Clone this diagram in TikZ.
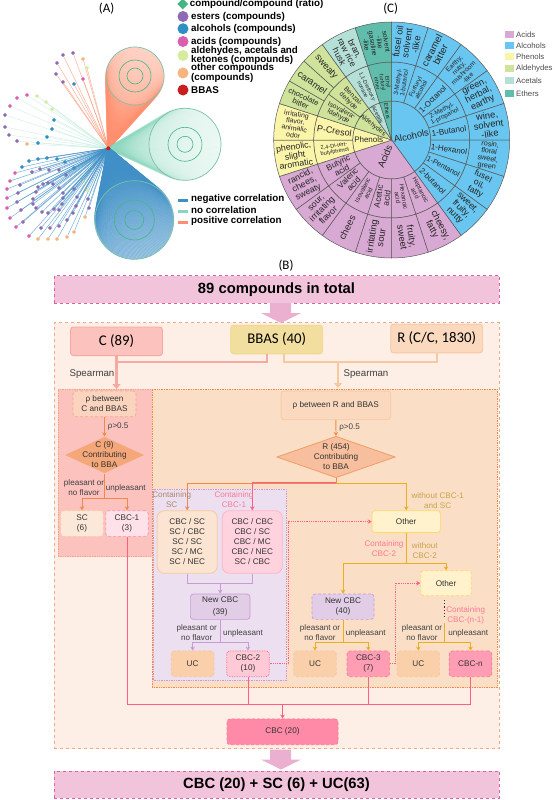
\documentclass[tikz,border=0pt]{standalone}
\usepackage{fontspec}
\setmainfont{Liberation Sans}
\newfontfamily\calfont{Carlito}
\usetikzlibrary{arrows.meta,calc,shapes.geometric}

\definecolor{cEst}{HTML}{8E6BB5}
\definecolor{cAlc}{HTML}{2E8FC5}
\definecolor{cAcd}{HTML}{DA5FAE}
\definecolor{cAld}{HTML}{D5EC9E}
\definecolor{cOth}{HTML}{F8B47C}
\definecolor{cGrn}{HTML}{45B585}
\definecolor{cRed}{HTML}{C81E1E}
\definecolor{cNeg}{HTML}{3F8FC6}
\definecolor{cNon}{HTML}{8AD6BC}
\definecolor{cPos}{HTML}{FF8F6E}
\definecolor{sAcd}{HTML}{D8A9D2}
\definecolor{sAlc}{HTML}{69C6F0}
\definecolor{sPhe}{HTML}{FBF5A9}
\definecolor{sAld}{HTML}{CFE39B}
\definecolor{sAce}{HTML}{B5E0D8}
\definecolor{sEth}{HTML}{60BDAC}
\definecolor{cBan}{HTML}{F2C4DC}
\definecolor{cBanE}{HTML}{E0609F}
\definecolor{cArr}{HTML}{EBAFD0}
\definecolor{cOut}{HTML}{FDEEE6}
\definecolor{cOutE}{HTML}{F5A58A}
\definecolor{cSal}{HTML}{FBC2BE}
\definecolor{cSalE}{HTML}{F5A9A0}
\definecolor{cPea}{HTML}{FAD9BE}
\definecolor{cPeaE}{HTML}{F7C9A0}
\definecolor{cPanR}{HTML}{FADFC6}
\definecolor{cOrg}{HTML}{F08A4C}
\definecolor{cPnk}{HTML}{FF5F85}
\definecolor{cPnkL}{HTML}{FF9DB5}
\definecolor{cGld}{HTML}{E8B020}
\definecolor{cPur}{HTML}{E2CDE6}
\definecolor{cPurE}{HTML}{C99AD8}
\definecolor{cTan}{HTML}{C8A24A}
\definecolor{cCrm}{HTML}{FFF2CC}
\definecolor{cCrmE}{HTML}{FFD966}
\definecolor{cSnd}{HTML}{F2DFA0}
\definecolor{cSndE}{HTML}{EDD98A}

% ---- sunburst cell: #1 from #2 to #3 angle #4 inner #5 outer ----
\newcommand{\sect}[5]{%
  \filldraw[fill=#1,draw=black!65,line width=.5pt]
    (#2:#4pt) -- (#2:#5pt) arc[start angle=#2,end angle=#3,radius=#5pt] -- (#3:#4pt)
    arc[start angle=#3,end angle=#2,radius=#4pt] -- cycle;%
}
% ---- sunburst text: #1 angle #2 radius #3 size #4 text ----
\newcommand{\slab}[4]{%
  \pgfmathsetmacro{\rot}{abs(#1)<90 ? #1 : #1+180}%
  \pgfmathsetmacro{\bsk}{#3*1.0}%
  \node[rotate=\rot,align=center,inner sep=0pt,text=black!85,
        font=\fontsize{#3}{\bsk}\selectfont] at (#1:#2pt) {#4};%
}
% ---- fan: #1 colour #2 x #3 y #4 r #5 opacity #6 ring #7 ring ----
\newcommand{\fan}[7]{%
  \foreach \a in {0,2,...,358}
    \draw[#1,line width=2.2pt,opacity=#5] (hub) -- ($(#2,#3)+(\a:#4pt)$);%
  \draw[cNon!90!black,line width=.7pt] (#2,#3) circle[radius=#4pt];%
  \draw[cGrn,line width=.6pt] (#2,#3) circle[radius=#6pt];%
  \draw[cGrn,line width=.6pt] (#2,#3) circle[radius=#7pt];%
}
% ---- block arrow: #1 x #2 top of the stem ----
\newcommand{\blkarr}[2]{%
  \fill[cArr] (#1-11,#2) -- (#1+10,#2) -- (#1+10,#2+10) -- (#1+20,#2+10)
    -- (#1,#2+20) -- (#1-20,#2+10) -- (#1-11,#2+10) -- cycle;%
}

\begin{document}
\begin{tikzpicture}[
  x=1pt,y=-1pt,
  panlab/.style={font=\calfont\fontsize{13}{13}\selectfont},
  legtxt/.style={font=\bfseries\fontsize{9.8}{9.6}\selectfont,anchor=west,align=left,inner sep=0pt},
  legdot/.style={circle,inner sep=0pt,minimum size=11pt},
  legbar/.style={line width=3pt},
  swatch/.style={inner sep=0pt,minimum width=8.7pt,minimum height=7pt},
  swtxt/.style={font=\fontsize{7.8}{8}\selectfont,text=black!70,anchor=west,inner sep=0pt},
  leaf/.style={regular polygon,regular polygon sides=6,inner sep=0pt,minimum size=3.6pt},
  spoke/.style={line width=.5pt,opacity=.7},
  banner/.style={draw=cBanE,fill=cBan,dashed,line width=.9pt,minimum width=445pt,minimum height=27.5pt,
    inner sep=0pt,font=\bfseries\fontsize{14.8}{15}\selectfont},
  bigbox/.style={rounded corners=3pt,line width=.9pt,minimum width=92pt,minimum height=28.6pt,
    inner sep=0pt,font=\calfont\fontsize{14.8}{15}\selectfont},
  panel/.style={densely dotted,line width=.7pt,inner sep=0pt},
  fbox/.style={rounded corners=3pt,line width=.7pt,align=center,inner sep=0pt,
    text=black!80,font=\fontsize{8.2}{10}\selectfont},
  leafbox/.style={fbox,densely dashed,minimum width=42.6pt,minimum height=25.7pt},
  listbox/.style={fbox,rounded corners=7pt,line width=.8pt,minimum width=60pt,minimum height=62.6pt},
  dia/.style={diamond,aspect=2,inner sep=0pt,line width=.8pt},
  dlab/.style={align=center,inner sep=0pt,text=black!80,font=\fontsize{8.2}{10}\selectfont},
  txt/.style={align=center,inner sep=0pt,text=black!75,font=\fontsize{8.1}{10}\selectfont},
  arr/.style={-{Stealth[length=4pt,width=4.5pt]},line width=.8pt},
  fatarr/.style={-{Triangle[length=5pt,width=8pt]},line width=2.3pt},
  dotarr/.style={-{Stealth[length=4pt,width=4.5pt]},cPnk,densely dotted,line width=.8pt},
]
\useasboundingbox (0,0) rectangle (554,800);

% ======================= (A) network =======================
\node[panlab] (labA) at (106.7,9) {(A)};
\coordinate (hub) at (108.3,148.3);

\fan{cPos}{135}{76}{29}{.2}{16}{8}
\fan{cNon}{185}{144.3}{36}{.1}{17}{8}
\fan{cNeg}{134.3}{220}{39.3}{.4}{20}{9.5}

% positive leaves
\foreach \x/\y/\c in {73/53/cEst,63/55/cEst,57/63/cEst,56/74/cEst,83/59/cOth,87/68/cAld,83/79/cAcd,63/82/cEst,74/84/cAlc}{
  \node[leaf,fill=\c] (pl) at (\x,\y) {};
  \draw[spoke,cPos] (pl) -- (hub);
}
% no correlation leaves
\foreach \x/\y/\c in {27/95/cAcd,17/98/cAcd,10/106/cAcd,5/115/cEst,5/127/cEst,9/135/cEst,17/141/cEst,27/144/cOth,38/143/cAlc,47/137/cAlc,52/129/cAlc,54/120/cAlc,52/109/cAld,46/102/cAld,37/96/cAld}{
  \node[leaf,fill=\c] (nl) at (\x,\y) {};
  \draw[spoke,cNon!50] (nl) -- (hub);
}
% negative leaves
\foreach \x/\y/\c in {22/167/cAlc,15/173/cAcd,10/181/cAcd,7/189/cAcd,7/198/cAcd,7/208/cAcd,10/218/cAcd,16/227/cAcd,29/236/cAcd,38/239/cOth,48/239/cOth,57/239/cOth,67/237/cOth,74/232/cOth,85/217/cOth,89/208/cEst,88/199/cEst,87/190/cAld,83/181/cAld,74/168/cAlc,65/162/cAlc,57/159/cAlc,47/158/cAlc,38/159/cAlc,29/161/cAlc,
  32/172/cEst,40/169/cEst,49/170/cEst,59/170/cEst,66/175/cEst,20/185/cEst,18/193/cEst,17/202/cEst,21/210/cEst,23/222/cEst,41/228/cEst,50/228/cEst,59/226/cEst,67/220/cEst,73/213/cEst,76/206/cEst,77/197/cEst,74/189/cEst,
  43/184/cEst,48/183/cEst,53/184/cEst,59/188/cEst,63/193/cEst,63/198/cEst,62/204/cEst,59/210/cEst,54/209/cEst,48/213/cEst,42/212/cEst,36/208/cEst,33/204/cEst,33/199/cEst,36/192/cEst,38/187/cEst}{
  \node[leaf,fill=\c] (gl) at (\x,\y) {};
  \draw[spoke,cNeg] (gl) -- (hub);
}
\node[circle,fill=cRed,inner sep=0pt,minimum size=4pt] (bbasdot) at (hub) {};

% legend of (A)
\node[diamond,fill=cGrn,inner sep=0pt,minimum size=11pt] (mk1) at (182.7,4) {};
\node[legtxt] (lg1) at (189.7,4) {compound/compound (ratio)};
\foreach \y/\c/\t/\n in {16.5/cEst/{esters (compounds)}/2,28.7/cAlc/{alcohols (compounds)}/3,41.5/cAcd/{acids (compounds)}/4,55.5/cAld/{aldehydes, acetals and\\ketones (compounds)}/5,73/cOth/{other compounds\\(compounds)}/6,90/cRed/{BBAS}/7}{
  \node[legdot,fill=\c] (mk\n) at (183,\y) {};
  \node[legtxt] (lg\n) at (191,\y) {\t};
}
\foreach \y/\c/\t/\n in {200/cNeg/{negative correlation}/8,211/cNon/{no correlation}/9,222/cPos/{positive correlation}/10}{
  \draw[legbar,\c] (177.7,\y) -- (188.3,\y);
  \node[legtxt] (lg\n) at (191,\y-.7) {\t};
}

% ======================= (C) sunburst =======================
\node[panlab] (labC) at (390.7,8.3) {(C)};
\begin{scope}[shift={(391.7,140)},y=1pt]
% inner ring
\sect{sAlc}{90}{-54}{0}{39}
\sect{sAcd}{-54}{-162}{0}{39}
\sect{sPhe}{198}{162}{0}{39}
\sect{sAld}{162}{126}{0}{39}
\sect{sAce}{126}{108}{0}{39}
\sect{sEth}{108}{90}{0}{39}
% middle and outer rings
\foreach \a in {90,72,...,-36}{
  \pgfmathsetmacro{\b}{\a-18}
  \sect{sAlc}{\a}{\b}{39}{78}
  \sect{sAlc}{\a}{\b}{78}{118}
}
\foreach \a in {-54,-72,...,-144}{
  \pgfmathsetmacro{\b}{\a-18}
  \sect{sAcd}{\a}{\b}{39}{78}
  \sect{sAcd}{\a}{\b}{78}{118}
}
\foreach \a in {198,180}{
  \pgfmathsetmacro{\b}{\a-18}
  \sect{sPhe}{\a}{\b}{39}{78}
  \sect{sPhe}{\a}{\b}{78}{118}
}
\sect{sAld}{162}{144}{39}{78}
\sect{sAld}{144}{126}{39}{78}
\sect{sAld}{162}{150}{78}{118}
\sect{sAld}{150}{138}{78}{118}
\sect{sAld}{138}{126}{78}{118}
\sect{sAce}{126}{108}{39}{78}
\sect{sAce}{126}{108}{78}{118}
\sect{sEth}{108}{90}{39}{78}
\sect{sEth}{108}{90}{78}{118}
% inner labels
\slab{12}{20}{9.4}{Alcohols}
\slab{-112}{18}{9.7}{Acids}
\node[inner sep=0pt,font=\fontsize{8}{8}\selectfont,text=black!85] (phe) at (180:23pt) {Phenols};
\slab{142}{24}{6.6}{Aldehydes}
\slab{119}{29}{5.6}{Acetals}
\slab{99}{29}{5.6}{Ethers}
% middle labels
\slab{81}{58}{6.4}{3-Methyl-\\1-butanol}
\slab{63}{58}{6.4}{Furfuryl\\alcohol}
\slab{45}{58}{8}{1-Octanol}
\slab{27}{58}{6.4}{2-Methyl-\\1-propanol}
\slab{9}{58}{8.2}{1-Butanol}
\slab{-9}{58}{8}{1-Hexanol}
\slab{-27}{58}{7.4}{1-Pentanol}
\slab{-45}{58}{8}{2-butanol}
\slab{-63}{58}{6.2}{Heptanoic\\acid}
\slab{-81}{58}{6.2}{Hexanoic\\acid}
\slab{-99}{58}{8.4}{Acetic\\acid}
\slab{-117}{58}{6.4}{Isovaleric\\acid}
\slab{-135}{58}{8.4}{Valeric\\acid}
\slab{-153}{58}{8.4}{Butyric\\acid}
\slab{189}{58}{5.6}{2,4-Di-tert-\\butylphenol}
\slab{171}{58}{9}{P-Cresol}
\slab{153}{58}{6.8}{Isovalera-\\ldehyde}
\slab{135}{58}{6.8}{Benzal-\\dehyde}
\slab{117}{58}{5.4}{1,1-Diethoxy-\\nonane}
\slab{99}{58}{5.4}{Ethyl\\furfuryl\\ether}
% outer labels
\slab{81}{98}{9.2}{fusel oil\\solvent\\-like}
\slab{63}{98}{9.6}{caramel\\bitter}
\slab{45}{98}{6.6}{Earthy,\\nutty,\\mushroom\\-like}
\slab{27}{98}{9.2}{green,\\herbal,\\earthy}
\slab{9}{98}{9.4}{wine,\\solvent\\-like}
\slab{-9}{98}{7.2}{rosin,\\floral\\sweet,\\green}
\slab{-27}{98}{8.6}{fusel\\oil,\\fatty}
\slab{-45}{98}{9}{sweet,\\fruity,\\nutty}
\slab{-63}{98}{9.4}{cheesy,\\fatty}
\slab{-81}{98}{9.4}{fruity,\\sweet}
\slab{-99}{98}{9.4}{irritating\\sour}
\slab{-117}{98}{9.6}{chees}
\slab{-135}{98}{8.8}{sour,\\irritating\\flavor}
\slab{-153}{98}{8.8}{rancid,\\chees,\\sweaty}
\slab{189}{98}{8.8}{phenolic,\\slight\\aromatic}
\slab{171}{98}{7}{irritating\\flavor,\\animalic\\odor}
\slab{156}{98}{7.6}{chocolate\\bitter}
\slab{144}{98}{9.4}{caramel}
\slab{132}{98}{9.4}{sweaty}
\slab{117}{98}{8.8}{bran,\\raw rice\\husk}
\slab{99}{98}{6.8}{solvent\\-like\\gasoline\\-like}
\end{scope}

% legend of (C)
\foreach \y/\c/\t/\n in {34.3/sAcd/Acids/1,46/sAlc/Alcohols/2,56.7/sPhe/Phenols/3,68.7/sAld/Aldehydes/4,80.7/sAce/Acetals/5,93.3/sEth/Ethers/6}{
  \node[swatch,fill=\c] (sw\n) at (509.7,\y) {};
  \node[swtxt] (st\n) at (516,\y) {\t};
}

% ======================= (B) flow =======================
\node[panlab] (labB) at (286,266) {(B)};
\node[banner] (topban) at (276.5,289.3) {89 compounds in total};
\blkarr{281}{303}

\node[draw=cOutE,fill=cOut,dashed,line width=.8pt,minimum width=445pt,minimum height=426pt,inner sep=0pt] (outer) at (276.5,535.7) {};
\node[panel,draw=cOutE,fill=cSal,minimum width=94.3pt,minimum height=167.7pt] (panC) at (105.2,472.8) {};
\node[panel,draw=cOrg,fill=cPanR,minimum width=344.7pt,minimum height=298.7pt] (panR) at (324.7,538.3) {};
\node[panel,draw=cPurE,fill=cPur!65,minimum width=132.3pt,minimum height=191.4pt] (panP) at (219.9,585) {};

% top row
\node[bigbox,draw=cSalE,fill=cSal] (cbox) at (116.5,341.3) {C (89)};
\node[bigbox,draw=cSndE,fill=cSnd] (bbas) at (276.7,339.5) {BBAS (40)};
\node[bigbox,draw=cPeaE,fill=cPea] (rbox) at (436.7,338.5) {R (C/C, 1830)};
\coordinate (cin) at (116.5,389);
\coordinate (rin) at (338,388);
\coordinate (jc) at (116.5,361.7);
\coordinate (jr) at (338,362);

\draw[fatarr,cSalE] (cbox.south) -- (cin);
\draw[line width=2pt,cSalE] ([xshift=-10pt]bbas.south) |- (jc);
\draw[line width=2pt,cPeaE] ([xshift=7.3pt]bbas.south) |- (jr);
\draw[line width=2pt,cPeaE] (rbox.south) |- (jr);
\draw[fatarr,cPeaE] (jr) -- (rin);
\node[font=\fontsize{9.7}{10}\selectfont,text=black!75,inner sep=0pt] (spC) at (92,374.5) {Spearman};
\node[font=\fontsize{9.7}{10}\selectfont,text=black!75,inner sep=0pt] (spR) at (366,374.5) {Spearman};

% C branch
\node[fbox,densely dashed,draw=cOrg!70,fill=cPea!80!cSal,minimum width=63pt,minimum height=25.7pt] (rhoC) at (104.5,403.8) {ρ between\\C and BBAS};
\node[dia,fill=cOrg!75,minimum width=79pt,minimum height=36.5pt,label={[dlab]center:C (9)\\Contributing\\to BBA}] (diaC) at (104.5,455) {};
\node[leafbox,draw=cPeaE,fill=cPea!60] (sc) at (82,523.5) {SC\\(6)};
\node[leafbox,draw=cPnk!70,fill=cPnkL!30] (cbc1) at (127,523.5) {CBC-1\\(3)};
\coordinate (jC) at (104.5,498);
\draw[arr,cOrg] (rhoC) -- node[txt,right=3pt]{ρ>0.5} (diaC);
\draw[line width=.8pt,cOrg] (diaC.south) -- (jC);
\draw[arr,cOrg] (jC) -| (sc.north);
\draw[arr,cOrg] (jC) -| (cbc1.north);
\node[txt] (plC) at (84,488) {pleasant or\\no flavor};
\node[txt] (unC) at (125.7,488) {unpleasant};

% R branch
\node[fbox,draw=cPeaE,fill=cPea,minimum width=109.7pt,minimum height=28.7pt] (rhoR) at (335.8,405.3) {ρ between R and BBAS};
\node[dia,draw=cOrg!85,fill=cOrg!55,minimum width=118.3pt,minimum height=41.4pt,label={[dlab]center:R (454)\\Contributing\\to BBA}] (diaR) at (336,457) {};
\node[listbox,draw=cPeaE,fill=cPea!70] (lstS) at (187.2,542) {CBC / SC\\SC / CBC\\SC / SC\\SC / MC\\SC / NEC};
\node[listbox,draw=cPnkL!75,fill=cPnkL!45] (lstC) at (252.3,542) {CBC / CBC\\CBC / SC\\CBC / MC\\CBC / NEC\\SC / CBC};
\node[fbox,draw=cCrmE,fill=cCrm,minimum width=68.3pt,minimum height=21.8pt] (oth1) at (406.2,521.6) {Other};
\coordinate (jR) at (336,483.3);
\draw[arr,cOrg] (rhoR) -- node[txt,right=3pt]{ρ>0.5} (diaR);
\draw[line width=.8pt,cOrg] (diaR.south) -- (jR);
\draw[arr,cOrg] (jR) -| (lstS.north);
\draw[arr,cPnk] ([yshift=.8pt]jR) -| (lstC.north);
\draw[arr,cGld] (jR) -| (oth1.north);
\node[txt,text=cOrg!60!black!70] (tS) at (171.7,500) {Containing\\SC};
\node[txt,text=cPnk!85] (tC) at (234,500) {Containing\\CBC-1};
\node[txt,text=cTan] (tW) at (437.7,501) {without CBC-1\\and SC};

% new CBC (39)
\node[fbox,draw=cPurE,fill=cPur,minimum width=59.7pt,minimum height=25.3pt,font=\fontsize{8.2}{12}\selectfont] (new39) at (220.2,606.7) {New CBC\\(39)};
\coordinate (jN) at (220.2,583.7);
\draw[line width=.8pt,cPurE] (lstS.south) |- (jN);
\draw[line width=.8pt,cPurE] (lstC.south) |- (jN);
\draw[arr,cPurE] (jN) -- (new39.north);
\node[leafbox,draw=cOrg!50,fill=cPea!90!orange] (uc1) at (192.6,663.8) {UC};
\node[leafbox,densely dotted,draw=cPnk,fill=cPnkL!55] (cbc2) at (248,663.8) {CBC-2\\(10)};
\coordinate (j39) at (220.2,642.3);
\draw[line width=.8pt,cPurE] (new39.south) -- (j39);
\draw[arr,cPurE] (j39) -| (uc1.north);
\draw[arr,cPurE] (j39) -| (cbc2.north);
\node[txt] (pl39) at (196.7,632.7) {pleasant or\\no flavor};
\node[txt] (un39) at (243,633.3) {unpleasant};

% second round
\node[fbox,densely dashed,draw=cPurE,fill=cPur,minimum width=62pt,minimum height=25.3pt] (new40) at (343,606.7) {New CBC\\(40)};
\node[fbox,densely dashed,draw=cCrmE,fill=cCrm,minimum width=50.6pt,minimum height=25pt] (oth2) at (446,583.2) {Other};
\coordinate (jO) at (406.2,563.3);
\draw[line width=.8pt,cGld] (oth1.south) -- (jO);
\draw[arr,cGld] (jO) -| (new40.north);
\draw[arr,cGld] (jO) -| (oth2.north);
\node[txt,text=cPnk!85] (tC2) at (384,549) {Containing\\CBC-2};
\node[txt,text=cTan] (tW2) at (424.7,550.7) {without\\CBC-2};
\node[leafbox,draw=cOrg!50,fill=cPea!90!orange] (uc2) at (315,663.8) {UC};
\node[leafbox,draw=cPnk!85,fill=cPnkL] (cbc3) at (368.3,663.8) {CBC-3\\(7)};
\coordinate (j40) at (343,642.3);
\draw[line width=.8pt,cGld] (new40.south) -- (j40);
\draw[arr,cGld] (j40) -| (uc2.north);
\draw[arr,cGld] (j40) -| (cbc3.north);
\node[txt] (pl40) at (320,632.7) {pleasant or\\no flavor};
\node[txt] (un40) at (365.7,633.3) {unpleasant};

% n-th round
\node[leafbox,draw=cOrg!50,fill=cPea!90!orange] (uc3) at (418.3,663.8) {UC};
\node[leafbox,draw=cPnk!85,fill=cPnkL] (cbcn) at (470.5,663.8) {CBC-n};
\coordinate (dt1) at (444.7,600);
\coordinate (dt2) at (444.7,618.3);
\coordinate (gt) at (444.7,622.7);
\coordinate (jn) at (444.7,642.3);
\draw[dotted,line width=1.2pt,black!80] (dt1) -- (dt2);
\draw[line width=.8pt,cGld] (gt) -- (jn);
\draw[arr,cGld] (jn) -| (uc3.north);
\draw[arr,cGld] (jn) -| (cbcn.north);
\node[txt,text=cPnk!85] (tCn) at (465.7,615.7) {Containing\\CBC-(n-1)};
\node[txt] (pln) at (422,632.7) {pleasant or\\no flavor};
\node[txt] (unn) at (468.3,633.3) {unpleasant};

% dotted feedback
\draw[dotarr] (cbc2.east) -- ++(18.7,0) |- (oth1.west);
\draw[dotarr] (cbc3.east) -- ++(5,0) |- (oth2.west);

% collect
\node[fbox,densely dashed,draw=cPnk!85,fill=cPnkL!70!cPnk,minimum width=111pt,minimum height=25.7pt] (cbc20) at (282.5,731.8) {CBC (20)};
\coordinate (jB) at (282.5,704.3);
\draw[line width=.9pt,cPnk] (cbc1.south) |- (jB);
\draw[line width=.9pt,cPnk] (cbc2.south) |- (jB);
\draw[line width=.9pt,cPnk] (cbc3.south) |- (jB);
\draw[line width=.9pt,cPnk] (cbcn.south) |- (jB);
\draw[arr,cPnk] (jB) -- (cbc20.north);

\blkarr{281}{749.5}
\node[banner] (botban) at (276.5,784.7) {CBC (20) + SC (6) + UC(63)};
\end{tikzpicture}
\end{document}
